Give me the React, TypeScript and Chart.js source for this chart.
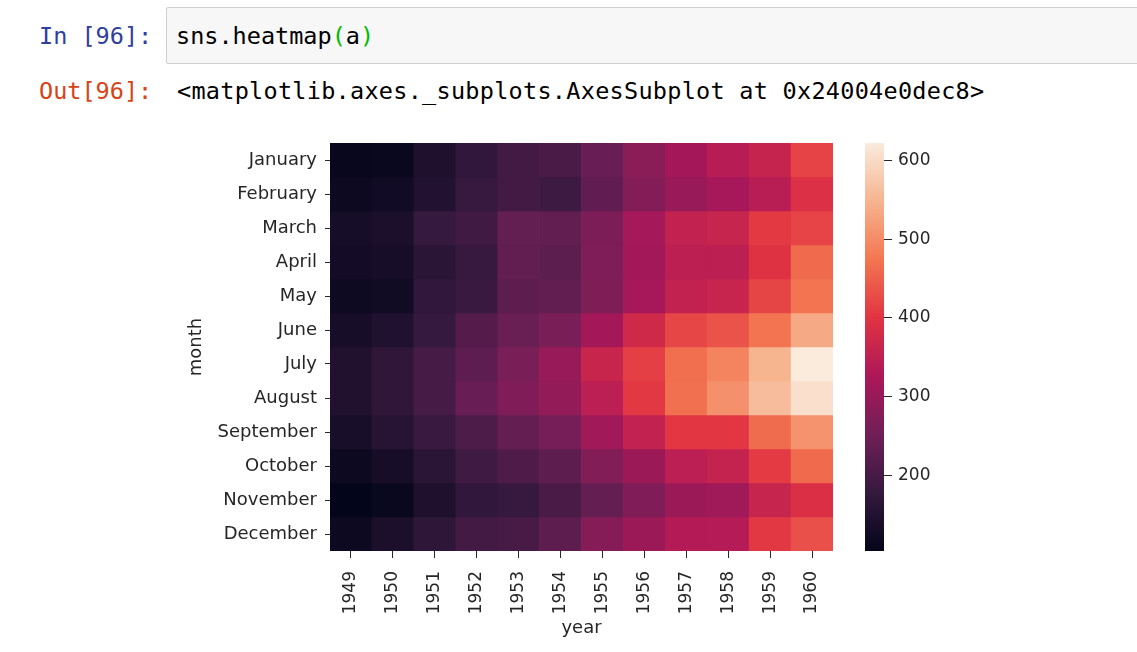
import React, { useEffect, useRef } from "react";
import { Chart, registerables } from "chart.js";

Chart.register(...registerables);

const years = ["1949", "1950", "1951", "1952", "1953", "1954", "1955", "1956", "1957", "1958", "1959", "1960"];
const months = ["January", "February", "March", "April", "May", "June", "July", "August", "September", "October", "November", "December"];

const january = [112, 115, 145, 171, 196, 204, 242, 284, 315, 340, 360, 417];
const february = [118, 126, 150, 180, 196, 188, 233, 277, 301, 318, 342, 391];
const march = [132, 141, 178, 193, 236, 235, 267, 317, 356, 362, 406, 419];
const april = [129, 135, 163, 181, 235, 227, 269, 313, 348, 348, 396, 461];
const may = [121, 125, 172, 183, 229, 234, 270, 318, 355, 363, 420, 472];
const june = [135, 149, 178, 218, 243, 264, 315, 374, 422, 435, 472, 535];
const july = [148, 170, 199, 230, 264, 302, 364, 413, 465, 491, 548, 622];
const august = [148, 170, 199, 242, 272, 293, 347, 405, 467, 505, 559, 606];
const september = [136, 158, 184, 209, 237, 259, 312, 355, 404, 404, 463, 508];
const october = [119, 133, 162, 191, 211, 229, 274, 306, 347, 359, 407, 461];
const november = [104, 114, 146, 172, 180, 203, 237, 271, 305, 310, 362, 390];
const december = [118, 140, 166, 194, 201, 229, 278, 306, 336, 337, 405, 432];

const rows = [january, february, march, april, may, june, july, august, september, october, november, december];
const colorbarTicks = [200, 300, 400, 500, 600];

const allValues = rows.flat();
const vmin = Math.min(...allValues);
const vmax = Math.max(...allValues);

// rocket colormap stops
const rocketStops: [number, number, number, number][] = [
  [0.0, 3, 5, 26],
  [0.143, 53, 25, 62],
  [0.286, 112, 31, 87],
  [0.429, 173, 23, 89],
  [0.571, 225, 51, 66],
  [0.714, 243, 118, 81],
  [0.857, 246, 180, 143],
  [1.0, 250, 235, 221],
];

function rocket(t: number): string {
  const x = Math.max(0, Math.min(1, t));
  for (let i = 1; i < rocketStops.length; i++) {
    const a = rocketStops[i - 1];
    const b = rocketStops[i];
    if (x <= b[0]) {
      const f = (x - a[0]) / (b[0] - a[0]);
      const r = Math.round(a[1] + (b[1] - a[1]) * f);
      const g = Math.round(a[2] + (b[2] - a[2]) * f);
      const bl = Math.round(a[3] + (b[3] - a[3]) * f);
      return `rgb(${r},${g},${bl})`;
    }
  }
  return "rgb(250,235,221)";
}

const TEXT = "#262626";
const FONT = "'DejaVu Sans', sans-serif";

function zeroPad(s: any) {
  s.paddingTop = 0;
  s.paddingBottom = 0;
  s.paddingLeft = 0;
  s.paddingRight = 0;
}

export default function App() {
  const heatRef = useRef<HTMLCanvasElement | null>(null);
  const barRef = useRef<HTMLCanvasElement | null>(null);

  useEffect(() => {
    if (!heatRef.current || !barRef.current) return;

    const heat = new Chart(heatRef.current, {
      type: "bar",
      data: {
        labels: years,
        datasets: rows.map((vals, m) => ({
          label: months[m],
          data: vals.map(() => [m, m + 1]) as any,
          backgroundColor: vals.map((v) => rocket((v - vmin) / (vmax - vmin))),
          borderWidth: 0,
          barPercentage: 1,
          categoryPercentage: 1,
          grouped: false,
        })),
      },
      options: {
        animation: false,
        responsive: false,
        devicePixelRatio: 1,
        layout: { padding: { top: 13, right: 27, left: 0, bottom: 0 } },
        plugins: { legend: { display: false }, tooltip: { enabled: false } },
        scales: {
          x: {
            type: "category",
            grid: { display: true, drawOnChartArea: false, drawTicks: true, tickLength: 7, offset: false, color: TEXT },
            border: { display: false },
            ticks: { color: TEXT, font: { family: FONT, size: 17 }, minRotation: 90, maxRotation: 90, padding: 13, autoSkip: false },
            title: { display: true, text: "year", color: TEXT, font: { family: FONT, size: 18 }, padding: { top: 0, bottom: 13 } },
            afterFit: (s: any) => { s.height = 101; zeroPad(s); },
          },
          y: {
            type: "linear",
            min: 0,
            max: 12,
            reverse: true,
            afterBuildTicks: (s: any) => { s.ticks = months.map((_, i) => ({ value: i + 0.5 })); },
            grid: { display: true, drawOnChartArea: false, drawTicks: true, tickLength: 5, color: TEXT },
            border: { display: false },
            ticks: {
              color: TEXT,
              font: { family: FONT, size: 18 },
              padding: 8,
              autoSkip: false,
              callback: (v: any) => months[Math.floor(Number(v))],
            },
            title: { display: true, text: "month", color: TEXT, font: { family: FONT, size: 18 }, padding: { top: 6, bottom: 0 } },
            afterFit: (s: any) => { s.width = 150; zeroPad(s); },
          },
        },
      },
    });

    const bar = new Chart(barRef.current, {
      type: "bar",
      data: {
        labels: ["colorbar"],
        datasets: [
          {
            data: [[vmin, vmax]] as any,
            backgroundColor: (c: any) => {
              const area = c.chart.chartArea;
              if (!area) return "#000";
              const g = c.chart.ctx.createLinearGradient(0, area.bottom, 0, area.top);
              rocketStops.forEach((s) => g.addColorStop(s[0], `rgb(${s[1]},${s[2]},${s[3]})`));
              return g;
            },
            borderWidth: 0,
            barPercentage: 1,
            categoryPercentage: 1,
          },
        ],
      },
      options: {
        animation: false,
        responsive: false,
        devicePixelRatio: 1,
        layout: { padding: { top: 13, right: 0, left: 15, bottom: 19 } },
        plugins: { legend: { display: false }, tooltip: { enabled: false } },
        scales: {
          x: { display: false },
          y: {
            type: "linear",
            position: "right",
            min: vmin,
            max: vmax,
            afterBuildTicks: (s: any) => { s.ticks = colorbarTicks.map((v) => ({ value: v })); },
            grid: { display: true, drawOnChartArea: false, drawTicks: true, tickLength: 8, color: TEXT },
            border: { display: false },
            ticks: { color: TEXT, font: { family: FONT, size: 17 }, padding: 6 },
            afterFit: (s: any) => { s.width = 86; zeroPad(s); },
          },
        },
      },
    });

    return () => {
      heat.destroy();
      bar.destroy();
    };
  }, []);

  const mono = "'DejaVu Sans Mono', monospace";
  return (
    <div style={{ position: "absolute", left: 0, top: 0, width: 1137, height: 652, background: "#fff", overflow: "hidden" }}>
      <div style={{ position: "absolute", left: 166, top: 7, width: 990, height: 55, background: "#f7f7f7", border: "1px solid #cfcfcf", borderRadius: 2 }} />
      <div style={{ position: "absolute", left: 39, top: 25, fontFamily: mono, fontSize: 23.5, lineHeight: 1, color: "#303F9F", whiteSpace: "pre" }}>In [96]:</div>
      <div style={{ position: "absolute", left: 176, top: 25, fontFamily: mono, fontSize: 23.5, lineHeight: 1, color: "#000", whiteSpace: "pre" }}>
        sns.heatmap<span style={{ color: "#0b0" }}>(</span>a<span style={{ color: "#0b0" }}>)</span>
      </div>
      <div style={{ position: "absolute", left: 39, top: 80, fontFamily: mono, fontSize: 23.5, lineHeight: 1, color: "#D84315", whiteSpace: "pre" }}>Out[96]:</div>
      <div style={{ position: "absolute", left: 177, top: 80, fontFamily: mono, fontSize: 23.5, lineHeight: 1, color: "#000", whiteSpace: "pre", letterSpacing: 0.27 }}>
        {"<matplotlib.axes._subplots.AxesSubplot at 0x24004e0dec8>"}
      </div>
      <canvas ref={heatRef} width={680} height={522} style={{ position: "absolute", left: 180, top: 130, width: 680, height: 522 }} />
      <canvas ref={barRef} width={120} height={440} style={{ position: "absolute", left: 850, top: 130, width: 120, height: 440 }} />
    </div>
  );
}
